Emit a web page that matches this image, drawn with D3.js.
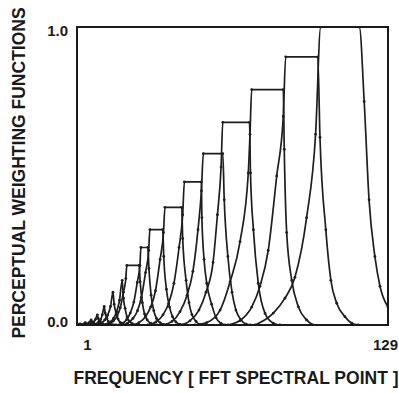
<!DOCTYPE html>
<html>
<head>
<meta charset="utf-8">
<script src="https://d3js.org/d3.v7.min.js"></script>
<style>
  body { margin: 0; background: #fff; }
  text { font-family: "Liberation Sans", Arial, sans-serif; font-weight: bold; fill: #1a1a1a; }
</style>
</head>
<body>
<div id="chart-area"></div>
<script>
// tick labels
var xTicks = [1, 129];
var yTicks = [0, 1];

// weighting functions: [fft point, weight]
var band01 = [[1.0,0],[1.8,0.002],[2.2,0.004],[2.9,0.002],[3.7,0]];
var band02 = [[3.1,0],[3.9,0.004],[4.4,0.008],[4.9,0.004],[5.7,0.001],[6.4,0]];
var band03 = [[4.3,0],[5.3,0.004],[6.1,0.009],[6.8,0.017],[7.2,0.01],[7.8,0.005],[8.4,0.002],[9.2,0]];
var band04 = [[5.5,0],[6.6,0.002],[7.2,0.005],[7.9,0.01],[8.6,0.019],[9.4,0.034],[9.7,0.022],[10.3,0.012],[10.9,0.006],[11.5,0.003],[12.5,0]];
var band05 = [[6.8,0],[8.0,0.001],[9.0,0.004],[9.8,0.009],[10.7,0.018],[11.4,0.034],[12.2,0.062],[12.6,0.04],[13.3,0.022],[13.9,0.011],[14.6,0.005],[15.4,0.0015],[16.2,0]];
var band06 = [[8.4,0],[9.8,0.002],[11.3,0.008],[12.4,0.017],[13.6,0.033],[14.8,0.062],[15.8,0.11],[16.3,0.07],[17.1,0.04],[17.9,0.02],[18.8,0.009],[19.9,0.003],[21.2,0]];
var band07 = [[11.3,0],[13.1,0.003],[14.8,0.01],[16.0,0.022],[17.3,0.044],[18.5,0.083],[19.6,0.15],[20.1,0.09],[20.8,0.056],[21.6,0.027],[22.6,0.013],[23.8,0.0045],[26.1,0]];
var band08 = [[12.1,0],[14.2,0.004],[16.0,0.014],[17.5,0.03],[18.8,0.058],[20.1,0.11],[21.1,0.156],[21.5,0.20],[26.6,0.20],[27.0,0.145],[27.9,0.075],[28.8,0.037],[29.9,0.017],[31.3,0.006],[32.7,0.001],[33.9,0]];
var band09 = [[17.1,0],[19.5,0.005],[21.4,0.018],[22.9,0.04],[24.4,0.077],[25.8,0.143],[26.9,0.2],[27.3,0.26],[30.2,0.26],[30.6,0.19],[31.5,0.10],[32.6,0.048],[33.7,0.022],[35.2,0.008],[36.8,0.0013],[38.0,0]];
var band10 = [[19.1,0],[21.8,0.006],[24.0,0.022],[25.9,0.048],[27.5,0.093],[29.2,0.176],[30.5,0.25],[31.0,0.32],[36.3,0.32],[36.7,0.23],[37.8,0.12],[39.1,0.06],[40.3,0.028],[41.7,0.01],[43.4,0.002],[44.6,0]];
var band11 = [[23.6,0],[26.5,0.008],[29.2,0.028],[31.3,0.06],[33.3,0.115],[35.2,0.22],[36.6,0.31],[37.2,0.395],[44.1,0.395],[44.5,0.29],[45.9,0.15],[47.1,0.075],[48.3,0.035],[50.0,0.012],[51.6,0.002],[52.9,0]];
var band12 = [[30.2,0],[33.5,0.01],[36.4,0.034],[38.7,0.072],[40.9,0.14],[43.0,0.26],[44.5,0.37],[45.2,0.48],[52.2,0.48],[52.4,0.36],[53.3,0.22],[54.4,0.14],[56.4,0.07],[58.2,0.025],[60.3,0.005],[61.9,0]];
var band13 = [[36.4,0],[40.1,0.012],[43.4,0.045],[46.3,0.10],[48.7,0.18],[50.8,0.32],[52.2,0.45],[53.0,0.575],[61.0,0.575],[61.6,0.42],[63.1,0.23],[64.8,0.11],[66.4,0.05],[68.5,0.017],[70.6,0.003],[72.2,0]];
var band14 = [[43.4,0],[47.5,0.014],[51.2,0.05],[54.1,0.11],[57.0,0.21],[58.8,0.37],[60.3,0.53],[61.0,0.68],[72.0,0.68],[72.4,0.51],[73.6,0.32],[75.6,0.14],[78.4,0.039],[81.8,0.006],[84.5,0]];
var band15 = [[49.6,0],[54.4,0.008],[59.9,0.05],[64.0,0.145],[68.1,0.28],[71.5,0.51],[72.2,0.64],[72.9,0.79],[85.9,0.79],[86.3,0.59],[87.3,0.31],[89.4,0.15],[92.1,0.061],[95.5,0.017],[98.1,0]];
var band16 = [[63.1,0],[68.1,0.015],[72.9,0.06],[76.3,0.13],[79.7,0.25],[83.2,0.50],[85.9,0.70],[86.9,0.90],[100.1,0.90],[101.0,0.63],[103.4,0.32],[105.5,0.15],[107.9,0.073],[111.3,0.028],[114.1,0.006],[116.7,0]];
var band17 = [[74.3,0],[81.8,0.04],[86.6,0.09],[90.7,0.16],[95.5,0.36],[99.2,0.64],[101.3,1.0],[117.2,1.0],[119.2,0.75],[121.2,0.42],[123.6,0.23],[125.7,0.13],[129.0,0.06]];

var bands = [band01, band02, band03, band04, band05, band06, band07, band08, band09,
             band10, band11, band12, band13, band14, band15, band16, band17];

var margin = { left:77, right:11, top:27, bottom:68 };

var width = 399 - margin.left - margin.right,
    height = 393 - margin.top - margin.bottom;

var svg = d3.select("#chart-area")
    .append("svg")
        .attr("width", 399)
        .attr("height", 393);

var g = svg.append("g")
    .attr("transform", "translate(" + margin.left + "," + margin.top + ")");

var x = d3.scaleLinear()
    .domain([1, 129])
    .range([0, width]);

var y = d3.scaleLinear()
    .domain([0, 1])
    .range([height, 0]);

g.append("clipPath")
    .attr("id", "plot-clip")
  .append("rect")
    .attr("width", width)
    .attr("height", height);

// curves
var line = d3.line()
    .x(d => x(d[0]))
    .y(d => y(d[1]))
    .curve(d3.curveMonotoneX);

var curves = g.append("g").attr("clip-path", "url(#plot-clip)");

curves.selectAll("path.band")
    .data(bands)
    .enter()
    .append("path")
        .attr("class", "band")
        .attr("d", line)
        .attr("fill", "none")
        .attr("stroke", "#1e1e1e")
        .attr("stroke-width", 1.7);

curves.selectAll("g.dots")
    .data(bands)
    .enter()
    .append("g")
        .attr("class", "dots")
    .selectAll("circle")
    .data(d => d)
    .enter()
    .append("circle")
        .attr("cx", d => x(d[0]))
        .attr("cy", d => y(d[1]))
        .attr("r", 1.4)
        .attr("fill", "#1e1e1e");

// frame
g.append("rect")
    .attr("width", width)
    .attr("height", height)
    .attr("fill", "none")
    .attr("stroke", "#1a1a1a")
    .attr("stroke-width", 2);

// X axis
var xAxisCall = d3.axisBottom(x)
    .tickValues(xTicks)
    .tickFormat(d3.format("d"))
    .tickSize(0)
    .tickPadding(14);

var xAxis = g.append("g")
    .attr("class", "x axis")
    .attr("transform", "translate(0," + height + ")")
    .call(xAxisCall);
xAxis.select(".domain").remove();
xAxis.selectAll("text")
    .attr("font-size", "15px")
    .attr("font-family", null)
    .attr("fill", null)
    .attr("dx", d => d === 1 ? 10 : -3);

// Y axis
var yAxisCall = d3.axisLeft(y)
    .tickValues(yTicks)
    .tickFormat(d3.format(".1f"))
    .tickSize(0)
    .tickPadding(9);

var yAxis = g.append("g")
    .attr("class", "y axis")
    .call(yAxisCall);
yAxis.select(".domain").remove();
yAxis.selectAll("text")
    .attr("font-size", "15px")
    .attr("font-family", null)
    .attr("fill", null)
    .attr("dy", d => d === 1 ? "0.55em" : "0.12em");

// X Label
svg.append("text")
    .attr("x", 236)
    .attr("y", 384)
    .attr("font-size", "17.5px")
    .attr("text-anchor", "middle")
    .text("FREQUENCY [ FFT SPECTRAL POINT ]");

// Y Label
svg.append("text")
    .attr("x", -173)
    .attr("y", 25)
    .attr("font-size", "17.5px")
    .attr("text-anchor", "middle")
    .attr("transform", "rotate(-90)")
    .text("PERCEPTUAL WEIGHTING FUNCTIONS");
</script>
</body>
</html>
